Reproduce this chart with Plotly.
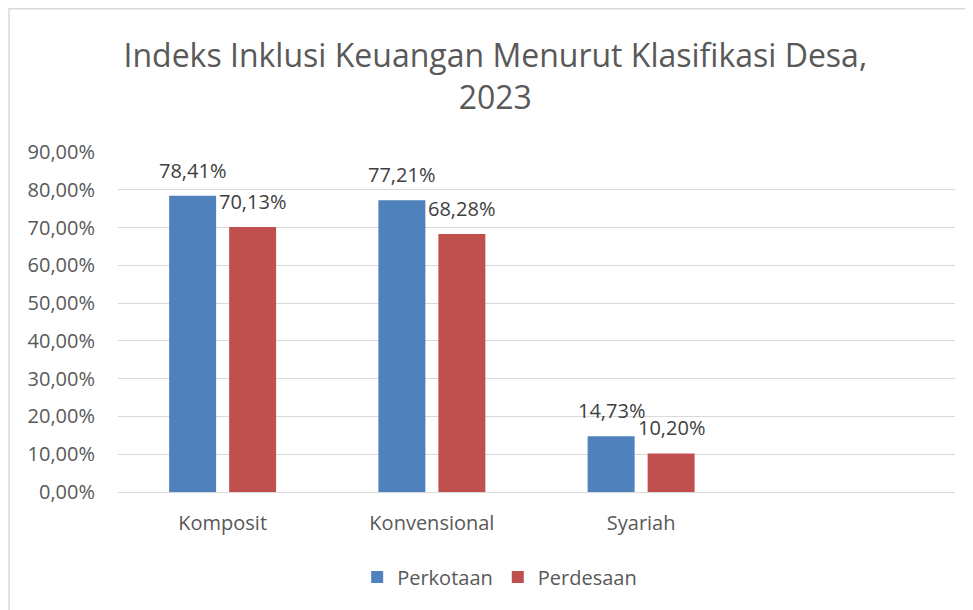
import plotly.graph_objects as go

# data
kategori = ["Komposit", "Konvensional", "Syariah"]
perkotaan = [0.7841, 0.7721, 0.1473]
perdesaan = [0.7013, 0.6828, 0.1020]
y_ticks = [0, 0.1, 0.2, 0.3, 0.4, 0.5, 0.6, 0.7, 0.8, 0.9]

blue = "#4F81BD"
red = "#C0504D"
grey_txt = "#595959"
font_name = "Open Sans"

fig = go.Figure()
fig.add_trace(go.Bar(x=kategori, y=perkotaan, name="Perkotaan",
                     marker=dict(color=blue, line=dict(width=0))))
fig.add_trace(go.Bar(x=kategori, y=perdesaan, name="Perdesaan",
                     marker=dict(color=red, line=dict(width=0))))

# data labels above bars
for vals, shift in [(perkotaan, -30), (perdesaan, 30)]:
    for k, v in zip(kategori, vals):
        fig.add_annotation(
            x=k, y=v, text=f"{v * 100:.2f}%".replace(".", ","),
            showarrow=False, xshift=shift, yanchor="bottom", yshift=10,
            font=dict(family=font_name, size=20, color="#404040"),
        )

# chart border (Excel chart area), left and top edges
fig.add_shape(type="rect", xref="paper", yref="paper",
              x0=-0.1302, x1=1.05, y0=-0.40, y1=1.421,
              line=dict(color="#D9D9D9", width=1.5), layer="below")

# page body has an 8px margin, so the figure is a bit smaller than the window
fig.update_layout(
    width=965, height=602,
    margin=dict(l=110, r=18, t=144, b=118, autoexpand=False),
    paper_bgcolor="white", plot_bgcolor="white",
    separators=",.",
    barmode="group", bargap=0.4265, bargroupgap=0.217,
    title=dict(text="Indeks Inklusi Keuangan Menurut Klasifikasi Desa,<br>2023",
               x=0.505, xanchor="center", y=0.902, yanchor="middle",
               font=dict(family=font_name, size=32, color=grey_txt)),
    font=dict(family=font_name, size=20, color=grey_txt),
    legend=dict(orientation="h", x=0.456, xanchor="center", y=-0.25, yanchor="middle",
                font=dict(size=20, color=grey_txt), itemwidth=30),
    xaxis=dict(type="category", range=[-0.5, 3.5], showline=False, ticks="",
               showgrid=False, ticklabelstandoff=17, automargin=False,
               tickfont=dict(size=20, color=grey_txt)),
    yaxis=dict(range=[0, 0.9], tickvals=y_ticks, tickformat=".2%",
               showgrid=True, gridcolor="#D9D9D9", gridwidth=1.3,
               zeroline=True, zerolinecolor="#D9D9D9", zerolinewidth=1.3,
               showline=False, ticks="", ticklabelstandoff=22, automargin=False,
               tickfont=dict(size=20, color=grey_txt)),
)

fig.write_html("out.html")
